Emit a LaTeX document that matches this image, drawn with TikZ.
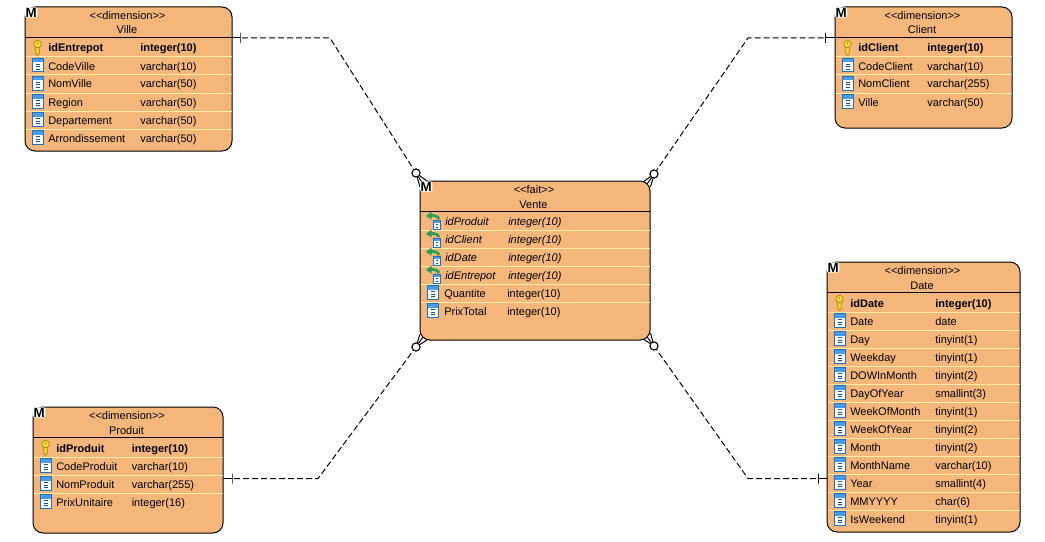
\documentclass[tikz,border=0pt]{standalone}
\usepackage{fontspec}
\setmainfont{Liberation Sans}
\usepackage{xcolor}
\usepackage{tikz}
\usetikzlibrary{fit,shapes.geometric}
\definecolor{entfill}{HTML}{F4B67B}
\definecolor{entsep}{HTML}{FFEFA6}
\definecolor{iconblue}{HTML}{1F6FC4}
\definecolor{iconband}{HTML}{4A9BE8}
\definecolor{iconnavy}{HTML}{1B4F8C}
\definecolor{keyfill}{HTML}{F5D53C}
\definecolor{keyline}{HTML}{A88600}
\definecolor{fkgreen}{HTML}{2F9E52}
\tikzstyle{entbox} = [draw=black,fill=entfill,line width=0.75pt,rounded corners=7.5pt,inner sep=0pt]
\tikzstyle{headtext} = [font=\fontsize{8.25}{10}\selectfont,inner sep=0pt,anchor=base]
\tikzstyle{rowtext} = [font=\fontsize{8.25}{10}\selectfont,inner sep=0pt,anchor=base west]
\tikzstyle{pktext} = [rowtext,font=\fontsize{8.25}{10}\selectfont\bfseries]
\tikzstyle{fktext} = [rowtext,font=\fontsize{8.25}{10}\selectfont\itshape]
\tikzstyle{mbadge} = [font=\fontsize{10}{10}\selectfont\bfseries,fill=white,inner sep=0.4pt,rounded corners=1pt,anchor=north west,xshift=0.3pt,yshift=-0.4pt]
\tikzstyle{sepline} = [draw=entsep,line width=0.75pt]
\tikzstyle{relline} = [black,line width=0.75pt,dash pattern=on 4.5pt off 2.25pt,dash phase=5.25pt]
\tikzstyle{stubline} = [black,line width=0.75pt]
\tikzstyle{ticknode} = [draw=black,line width=0.75pt,rectangle,inner sep=0pt,minimum width=0pt,minimum height=7.5pt]
\tikzstyle{crowring} = [draw=black,fill=white,line width=0.75pt,circle,inner sep=0pt,minimum size=6pt]

\newcommand{\columnicon}[2]{
\begin{scope}[shift={(#1,#2)}]
\fill[white] (0,0) rectangle (12,14.5);
\fill[iconband] (0,0) rectangle (12,4.5);
\draw[iconblue,line width=0.75pt] (0.5,0.5) rectangle (11.5,14);
\draw[iconnavy,line width=0.75pt] (4,6.5) -- (8,6.5);
\draw[iconnavy,line width=0.75pt] (4,9) -- (8,9);
\draw[iconnavy,line width=0.75pt] (4,11.5) -- (8,11.5);
\end{scope}
}
\newcommand{\keyicon}[2]{
\begin{scope}[shift={(#1,#2)}]
\draw[keyline,fill=keyfill,line width=0.5pt] (-1.8,2) -- (-1.8,13) -- (0,15) -- (1.8,13) -- (1.8,2) -- cycle;
\draw[keyline,fill=keyfill,line width=0.5pt] (0,3.5) circle (3.8);
\fill[keyline] (0,2.5) circle (0.8);
\end{scope}
}
\newcommand{\fkicon}[2]{
\begin{scope}[shift={(#1,#2)}]
\draw[fkgreen,line width=2pt] (4,-5.5) .. controls (8,-6) and (12,-5) .. (13,-2);
\fill[fkgreen] (0,-5) -- (5.5,-9.5) -- (5.5,-1.5) -- cycle;
\fill[white] (6.5,-1.5) rectangle (15,8.5);
\fill[iconband] (6.5,-1.5) rectangle (15,1.5);
\draw[iconblue,line width=0.75pt] (7,-1) rectangle (14.5,8);
\draw[iconnavy,line width=0.75pt] (9.5,3.5) -- (12,3.5);
\draw[iconnavy,line width=0.75pt] (9.5,6) -- (12,6);
\end{scope}
}
\newcommand{\tablebox}[7]{
\coordinate (#1-a) at (#2,#3);
\coordinate (#1-b) at (#4,#5);
\node[entbox,fit=(#1-a)(#1-b)] (#1) {};
\node[headtext] (#1-st) at ({(#2+#4)/2-1},#3+12.5) {<\kern0pt<#6>\kern0pt>};
\node[headtext] (#1-ti) at ({(#2+#4)/2-1.5},#3+27) {#7};
\coordinate (#1-hl) at (#2,#3+30.5);
\coordinate (#1-hr) at (#4,#3+30.5);
\draw[stubline] (#1-hl) -- (#1-hr);
\def\xl{#2}
\def\xr{#4}
\def\xn{#2+23}
}
\newcommand{\pkrow}[4]{
\keyicon{\xl+12.5}{#2-7.5}
\node[pktext] (#1) at (\xn,#2+4) {#3};
\node[pktext] (#1-t) at (\xt,#2+4) {#4};
}
\newcommand{\colrow}[4]{
\draw[sepline] (\xl+0.5,#2-9) -- (\xr-0.5,#2-9);
\columnicon{\xl+7}{#2-8}
\node[rowtext] (#1) at (\xn,#2+4) {#3};
\node[rowtext] (#1-t) at (\xt,#2+4) {#4};
}
\newcommand{\fkrow}[4]{
\fkicon{\xl+6}{#2}
\node[fktext] (#1) at (\xn,#2+4) {#3};
\node[fktext] (#1-t) at (\xt,#2+4) {#4};
}

\begin{document}
\begin{tikzpicture}[x=0.75pt,y=-0.75pt]
\useasboundingbox (0,0) rectangle (1045,542);

\tablebox{ville}{25}{7}{232}{151}{dimension}{Ville}
\def\xt{140}
\pkrow{ville1}{48}{idEntrepot}{integer(10)}
\colrow{ville2}{66}{CodeVille}{varchar(10)}
\colrow{ville3}{84}{NomVille}{varchar(50)}
\colrow{ville4}{102}{Region}{varchar(50)}
\colrow{ville5}{120}{Departement}{varchar(50)}
\colrow{ville6}{138}{Arrondissement}{varchar(50)}

\tablebox{client}{835}{7}{1012}{128}{dimension}{Client}
\def\xt{927}
\pkrow{client1}{48}{idClient}{integer(10)}
\colrow{client2}{66}{CodeClient}{varchar(10)}
\colrow{client3}{84}{NomClient}{varchar(255)}
\colrow{client4}{102}{Ville}{varchar(50)}

\tablebox{produit}{33}{407}{223}{533}{dimension}{Produit}
\def\xt{131.5}
\pkrow{produit1}{448}{idProduit}{integer(10)}
\colrow{produit2}{466}{CodeProduit}{varchar(10)}
\colrow{produit3}{484}{NomProduit}{varchar(255)}
\colrow{produit4}{502}{PrixUnitaire}{integer(16)}

\tablebox{date}{827}{262}{1020}{532}{dimension}{Date}
\def\xt{935}
\pkrow{date1}{303}{idDate}{integer(10)}
\colrow{date2}{321}{Date}{date}
\colrow{date3}{339}{Day}{tinyint(1)}
\colrow{date4}{357}{Weekday}{tinyint(1)}
\colrow{date5}{375}{DOWInMonth}{tinyint(2)}
\colrow{date6}{393}{DayOfYear}{smallint(3)}
\colrow{date7}{411}{WeekOfMonth}{tinyint(1)}
\colrow{date8}{429}{WeekOfYear}{tinyint(2)}
\colrow{date9}{447}{Month}{tinyint(2)}
\colrow{date10}{465}{MonthName}{varchar(10)}
\colrow{date11}{483}{Year}{smallint(4)}
\colrow{date12}{501}{MMYYYY}{char(6)}
\colrow{date13}{519}{IsWeekend}{tinyint(1)}

\tablebox{vente}{420}{181}{650}{340}{fait}{Vente}
\def\xn{445}
\def\xt{508}
\fkrow{vente1}{221}{idProduit}{integer(10)}
\draw[sepline] (420.5,230) -- (649.5,230);
\fkrow{vente2}{239}{idClient}{integer(10)}
\draw[sepline] (420.5,248) -- (649.5,248);
\fkrow{vente3}{257}{idDate}{integer(10)}
\draw[sepline] (420.5,266) -- (649.5,266);
\fkrow{vente4}{275}{idEntrepot}{integer(10)}
\def\xn{444}
\def\xt{507}
\colrow{vente5}{293}{Quantite}{integer(10)}
\colrow{vente6}{311}{PrixTotal}{integer(10)}

\coordinate (ville-port) at (232,38);
\coordinate (ville-bend) at (330,38);
\node[ticknode] (ville-tick) at (240,38) {};
\node[crowring] (ring-tl) at (416,173) {};
\draw[stubline] (ville-port) -- (ville-tick.center);
\draw[relline] (ville-tick.center) -- (ville-bend) -- (ring-tl);

\coordinate (client-port) at (835,38);
\coordinate (client-bend) at (748,38);
\node[ticknode] (client-tick) at (825.5,38) {};
\node[crowring] (ring-tr) at (654,174) {};
\draw[stubline] (client-port) -- (client-tick.center);
\draw[relline] (client-tick.center) -- (client-bend) -- (ring-tr);

\coordinate (produit-port) at (223,478.5);
\coordinate (produit-bend) at (318,478.5);
\node[ticknode] (produit-tick) at (232,478.5) {};
\node[crowring] (ring-bl) at (416,347) {};
\draw[stubline] (produit-port) -- (produit-tick.center);
\draw[relline] (produit-tick.center) -- (produit-bend) -- (ring-bl);

\coordinate (date-port) at (827,478.5);
\coordinate (date-bend) at (748,478.5);
\node[ticknode] (date-tick) at (818,478.5) {};
\node[crowring] (ring-br) at (654,346) {};
\draw[stubline] (date-port) -- (date-tick.center);
\draw[relline] (date-tick.center) -- (date-bend) -- (ring-br);

\coordinate (tl-a) at (427,181);
\coordinate (tl-b) at (420,187);
\coordinate (tl-c) at (423,184);
\draw[stubline] (ring-tl) -- (tl-a);
\draw[stubline] (ring-tl) -- (tl-b);
\draw[stubline] (ring-tl) -- (tl-c);
\coordinate (tr-a) at (643,182);
\coordinate (tr-b) at (650.5,187);
\coordinate (tr-c) at (647,184);
\draw[stubline] (ring-tr) -- (tr-a);
\draw[stubline] (ring-tr) -- (tr-b);
\draw[stubline] (ring-tr) -- (tr-c);
\coordinate (bl-a) at (420,334);
\coordinate (bl-b) at (427,340);
\coordinate (bl-c) at (423,337);
\draw[stubline] (ring-bl) -- (bl-a);
\draw[stubline] (ring-bl) -- (bl-b);
\draw[stubline] (ring-bl) -- (bl-c);
\coordinate (br-a) at (644,339.5);
\coordinate (br-b) at (650.5,333);
\coordinate (br-c) at (647,337);
\draw[stubline] (ring-br) -- (br-a);
\draw[stubline] (ring-br) -- (br-b);
\draw[stubline] (ring-br) -- (br-c);
\node[crowring] at (ring-tl) {};
\node[crowring] at (ring-tr) {};
\node[crowring] at (ring-bl) {};
\node[crowring] at (ring-br) {};

\node[mbadge] (ville-m) at (ville.north west) {M};
\node[mbadge] (client-m) at (client.north west) {M};
\node[mbadge] (produit-m) at (produit.north west) {M};
\node[mbadge] (date-m) at (date.north west) {M};
\node[mbadge] (vente-m) at (vente.north west) {M};
\end{tikzpicture}
\end{document}
